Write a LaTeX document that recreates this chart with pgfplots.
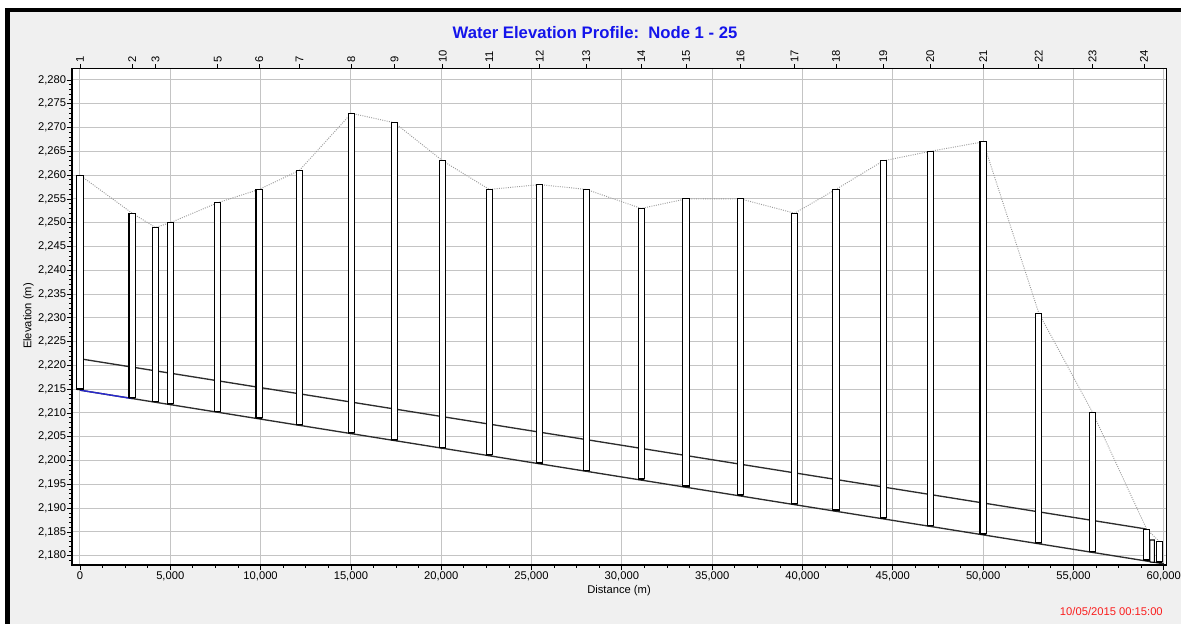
\documentclass[border=0pt]{standalone}
\usepackage{pgfplots}
\pgfplotsset{compat=1.18}
\usepackage{pgfplotstable}
\usepackage{fontspec}
\setmainfont{Liberation Sans}
\definecolor{bgray}{RGB}{240,240,240}
\definecolor{gridgray}{RGB}{196,196,196}
\definecolor{titleblue}{RGB}{20,20,235}
\definecolor{stampred}{RGB}{250,30,30}
\definecolor{dotgray}{RGB}{155,155,155}
\definecolor{linegray}{RGB}{45,45,45}
\definecolor{bedblue}{RGB}{40,40,210}

\pgfplotstableread{
x bot top
0 2214.80 2260.0
2890 2213.04 2252.0
4180 2212.26 2249.0
5000 2211.76 2250.0
7630 2210.16 2254.2
9920 2208.77 2257.0
12150 2207.41 2261.0
15025 2205.66 2273.0
17420 2204.21 2271.0
20080 2202.59 2263.0
22660 2201.02 2257.0
25450 2199.33 2258.0
28030 2197.76 2257.0
31070 2195.91 2253.0
33550 2194.40 2255.0
36570 2192.57 2255.0
39560 2190.75 2252.0
41850 2189.36 2257.0
44470 2187.76 2263.0
47070 2186.18 2265.0
50000 2184.40 2267.0
53080 2182.53 2231.0
56060 2180.72 2210.1
59050 2178.90 2185.6
59750 2178.47 2183.0
}\nodes

\begin{document}
\begin{tikzpicture}[x=0.75pt,y=0.75pt]
\path[use as bounding box] (0,0) rectangle (1181,624);
\fill[white] (0,0) rectangle (1181,624);
\fill[bgray] (5,0) rectangle (1181,616);
\fill[black] (5,612) rectangle (1181,616);
\fill[black] (5,0) rectangle (10,616);

\begin{axis}[
  at={(54pt,44.25pt)}, anchor=south west,
  scale only axis, width=821pt, height=372.5pt,
  xmin=-440, xmax=60160, ymin=2178.05, ymax=2282.45,
  xtick distance=5000, ytick distance=5,
  minor x tick num=3, minor y tick num=4,
  xtick pos=left, ytick pos=left, tick align=outside,
  major tick length=3.75pt, minor tick length=2.25pt,
  grid=major, grid style={gridgray, line width=0.75pt},
  axis line style={line width=1pt},
  tick style={black, line width=0.6pt},
  scaled x ticks=false, scaled y ticks=false,
  /pgf/number format/fixed, /pgf/number format/precision=0,
  /pgf/number format/1000 sep={,},
  /pgf/number format/assume math mode=true,
  every tick label/.append style={font=\fontsize{8.4}{9}\selectfont},
  yticklabel style={inner sep=0.5pt},
  xticklabel style={inner sep=1pt},
  axis background/.style={fill=white},
]
\addplot[linegray, line width=1pt] coordinates {(0,2221.4) (59050,2185.6)};
\addplot[linegray, line width=1pt] coordinates {(0,2214.8) (60000,2178.3)};
\addplot[bedblue, line width=1pt] coordinates {(0,2214.8) (2890,2213.04)};
\addplot[dotgray, densely dotted, line width=0.7pt] table[x=x,y=top] {\nodes};
\addplot[draw=black, fill=white, line width=0.8pt] coordinates {(59225,2178.7) (59480,2178.6) (59480,2183.3) (59225,2183.3) (59225,2178.7)};
\end{axis}

\begin{axis}[
  at={(54pt,44.25pt)}, anchor=south west,
  scale only axis, width=821pt, height=372.5pt,
  xmin=-440, xmax=60160, ymin=2178.05, ymax=2282.45,
  axis x line*=top, axis y line=none,
  scaled x ticks=false, scaled y ticks=false,
  ybar stacked, bar width=350,
  xtick={0,2890,4180,7630,9920,12150,15025,17420,20080,22660,25450,28030,31070,33550,36570,39560,41850,44470,47070,50000,53080,56060,58900},
  xticklabels={1,2,3,5,6,7,8,9,10,11,12,13,14,15,16,17,18,19,20,21,22,23,24},
  xticklabel style={rotate=90, anchor=west, inner sep=1pt, font=\fontsize{8.4}{9}\selectfont},
  tick align=outside, major tick length=3pt,
  tick style={black, line width=0.6pt},
  axis line style={line width=1pt},
]
\addplot[draw=none, fill=none] table[x=x,y=bot] {\nodes};
\addplot[draw=none, fill=black] table[x=x, y expr=0.25] {\nodes};
\addplot[draw=black, fill=white, line width=0.8pt] table[x=x, y expr=\thisrow{top}-\thisrow{bot}-0.25] {\nodes};
\end{axis}

\node[font=\bfseries\fontsize{12.5}{14}\selectfont, text=titleblue] at (595,591) {Water Elevation Profile:\ \ Node 1 - 25};
\node[rotate=90, font=\fontsize{8.4}{9}\selectfont] at (28.5,308) {Elevation (m)};
\node[font=\fontsize{8.4}{9}\selectfont] at (619,33) {Distance (m)};
\node[anchor=east, inner sep=0pt, font=\fontsize{8.4}{9}\selectfont, text=stampred] at (1163,13) {10/05/2015 00:15:00};
\end{tikzpicture}
\end{document}
